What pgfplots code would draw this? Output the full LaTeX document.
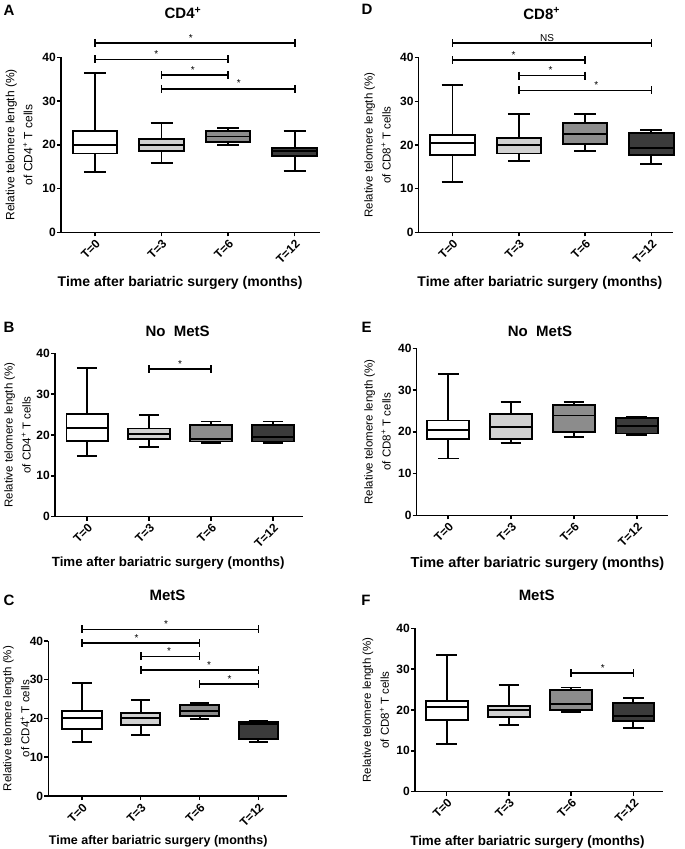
\documentclass[border=0pt]{standalone}
\usepackage{fontspec}
\setmainfont{Liberation Sans}
\usepackage{pgfplots}
\pgfplotsset{compat=1.18}

\definecolor{boxlight}{gray}{0.82}
\definecolor{boxmid}{gray}{0.55}
\definecolor{boxdark}{gray}{0.23}

\newcommand{\fs}[1]{\fontsize{#1}{#1}\selectfont}

\tikzset{sigstar/.style={anchor=base, yshift=1.8pt, font=\fs{10}}}

\pgfplotsset{
  panel/.style={
    scale only axis, clip=false,
    axis lines*=left,
    axis line style={line width=1.5pt},
    ymin=0, ymax=40, ytick={0,10,20,30,40},
    xtick={0,1,2,3}, xticklabels={{T=0},{T=3},{T=6},{T=12}},
    tick align=outside, major tick length=4pt,
    tick style={line width=1.5pt, black},
    /pgf/number format/assume math mode=true,
    yticklabel style={font=\bfseries\fs{12}, inner sep=1pt},
    xticklabel style={font=\bfseries\fs{12}, rotate=45, anchor=north east, inner sep=1.5pt},
    ylabel style={font=\fontsize{11.5}{18}\selectfont, align=center, anchor=center},
    xlabel style={font=\bfseries\fs{13.5}, anchor=center},
    title style={font=\bfseries\fs{15}, anchor=center},
  },
  bx/.style={line width=1.9pt, draw=black, line join=miter, mark=none},
  sig/.style={line width=1.7pt, black, mark=|, mark size=4pt, mark options={line width=1.7pt}},
}

% box: position, lower whisker, lower quartile, median, upper quartile, upper whisker, fill
\newcommand{\bp}[7]{%
  \pgfmathsetmacro{\boxL}{#1-0.335}\pgfmathsetmacro{\boxR}{#1+0.335}%
  \pgfmathsetmacro{\capL}{#1-0.165}\pgfmathsetmacro{\capR}{#1+0.165}%
  \addplot[bx] coordinates {(#1,#5)(#1,#6)};
  \addplot[bx] coordinates {(\capL,#6)(\capR,#6)};
  \addplot[bx] coordinates {(#1,#3)(#1,#2)};
  \addplot[bx] coordinates {(\capL,#2)(\capR,#2)};
  \addplot[bx, fill=#7, line cap=rect] coordinates {(\boxL,#3)(\boxR,#3)(\boxR,#5)(\boxL,#5)(\boxL,#3)};
  \addplot[bx] coordinates {(\boxL,#4)(\boxR,#4)};
}

\begin{document}
\begin{tikzpicture}
\useasboundingbox (0pt,0pt) rectangle (685pt,849pt);

% ---------------- A: CD4+ ----------------
\begin{axis}[panel, at={(61pt,616.7pt)}, anchor=south west,
  width=259pt, height=175pt, xmin=-0.51, xmax=3.38,
  title={CD4\textsuperscript{+}}, title style={at={(axis description cs:0.471,1)}, yshift=38.3pt},
  ylabel={Relative telomere length (\%)\\of CD4\textsuperscript{+} T cells},
  ylabel style={at={(axis description cs:-0.162,0.5)}, font=\fontsize{12}{18}\selectfont},
  xlabel={Time after bariatric surgery (months)},
  xlabel style={at={(axis description cs:0.46,0)}, yshift=-50.7pt, font=\bfseries\fs{14}}]
\bp{0}{13.85}{18.0}{19.95}{23.2}{36.5}{white}
\bp{1}{15.8}{18.6}{19.95}{21.4}{25.05}{boxlight}
\bp{2}{19.95}{20.6}{21.9}{23.1}{23.8}{boxmid}
\bp{3}{14.0}{17.5}{18.65}{19.35}{23.2}{boxdark}
\addplot[sig] coordinates {(0,43.3)(3,43.3)} node[sigstar, pos=0.48] {*};
\addplot[sig] coordinates {(0,39.5)(2,39.5)} node[sigstar, pos=0.46] {*};
\addplot[sig] coordinates {(1,35.9)(2,35.9)} node[sigstar, pos=0.47] {*};
\addplot[sig] coordinates {(1,32.8)(3,32.8)} node[sigstar, pos=0.58] {*};
\end{axis}

% ---------------- D: CD8+ ----------------
\begin{axis}[panel, at={(418.7pt,616.7pt)}, anchor=south west,
  width=254.6pt, height=174.6pt, xmin=-0.51, xmax=3.33,
  title={CD8\textsuperscript{+}}, title style={at={(axis description cs:0.483,1)}, yshift=38.3pt},
  ylabel={Relative telomere length (\%)\\of CD8\textsuperscript{+} T cells},
  ylabel style={at={(axis description cs:-0.162,0.5)}},
  xlabel={Time after bariatric surgery (months)},
  xlabel style={at={(axis description cs:0.476,0)}, yshift=-51pt, font=\bfseries\fs{14}}]
\bp{0}{11.6}{17.8}{20.5}{22.2}{33.7}{white}
\bp{1}{16.3}{18.05}{19.95}{21.5}{27.0}{boxlight}
\bp{2}{18.6}{20.3}{22.6}{25.1}{27.0}{boxmid}
\bp{3}{15.7}{17.7}{19.35}{22.85}{23.5}{boxdark}
\addplot[sig] coordinates {(0,43.3)(3,43.3)} node[sigstar, pos=0.475, yshift=-0.5pt] {NS};
\addplot[sig] coordinates {(0,39.4)(2,39.4)} node[sigstar, pos=0.46] {*};
\addplot[sig] coordinates {(1,35.9)(2,35.9)} node[sigstar, pos=0.48] {*};
\addplot[sig] coordinates {(1,32.5)(3,32.5)} node[sigstar, pos=0.585] {*};
\end{axis}

% ---------------- B: No MetS, CD4+ ----------------
\begin{axis}[panel, at={(55pt,332.3pt)}, anchor=south west,
  width=247.7pt, height=163.4pt, xmin=-0.52, xmax=3.48,
  title={No\ \ MetS}, title style={at={(axis description cs:0.495,1)}, yshift=16pt},
  ylabel={Relative telomere length (\%)\\of CD4\textsuperscript{+} T cells},
  ylabel style={at={(axis description cs:-0.151,0.5)}},
  xlabel={Time after bariatric surgery (months)},
  xlabel style={at={(axis description cs:0.457,0)}, yshift=-46.6pt, font=\bfseries\fs{13.3}}]
\bp{0}{14.8}{18.5}{21.7}{25.15}{36.4}{white}
\bp{1}{17.15}{19.0}{20.25}{21.6}{24.9}{boxlight}
\bp{2}{18.1}{18.4}{19.1}{22.45}{23.3}{boxmid}
\bp{3}{18.1}{18.4}{19.45}{22.45}{23.3}{boxdark}
\addplot[sig] coordinates {(1,36.1)(2,36.1)} node[sigstar, pos=0.5] {*};
\end{axis}

% ---------------- E: No MetS, CD8+ ----------------
\begin{axis}[panel, at={(416.7pt,333.7pt)}, anchor=south west,
  width=251.6pt, height=167pt, xmin=-0.5, xmax=3.5,
  title={No\ \ MetS}, title style={at={(axis description cs:0.49,1)}, yshift=11pt},
  ylabel={Relative telomere length (\%)\\of CD8\textsuperscript{+} T cells},
  ylabel style={at={(axis description cs:-0.156,0.5)}},
  xlabel={Time after bariatric surgery (months)},
  xlabel style={at={(axis description cs:0.48,0)}, yshift=-48pt, font=\bfseries\fs{14.5}}]
\bp{0}{13.6}{18.2}{20.35}{22.7}{33.8}{white}
\bp{1}{17.4}{18.2}{21.2}{24.2}{27.05}{boxlight}
\bp{2}{18.75}{19.95}{23.9}{26.35}{27.1}{boxmid}
\bp{3}{19.3}{19.6}{21.4}{23.4}{23.5}{boxdark}
\end{axis}

% ---------------- C: MetS, CD4+ ----------------
\begin{axis}[panel, at={(48.3pt,53pt)}, anchor=south west,
  width=238.4pt, height=155pt, xmin=-0.57, xmax=3.48,
  title={MetS}, title style={at={(axis description cs:0.5,1)}, yshift=39.3pt},
  ylabel={Relative telomere length (\%)\\of CD4\textsuperscript{+} T cells},
  ylabel style={at={(axis description cs:-0.134,0.5)}},
  xlabel={Time after bariatric surgery (months)},
  xlabel style={at={(axis description cs:0.461,0)}, yshift=-45.7pt, font=\bfseries\fs{12.5}}]
\bp{0}{13.9}{17.3}{20.05}{22.0}{29.2}{white}
\bp{1}{15.7}{18.4}{20.05}{21.5}{24.8}{boxlight}
\bp{2}{19.95}{20.6}{22.0}{23.4}{23.9}{boxmid}
\bp{3}{13.9}{14.8}{18.5}{19.1}{19.35}{boxdark}
\addplot[sig] coordinates {(0,43.0)(3,43.0)} node[sigstar, pos=0.477] {*};
\addplot[sig] coordinates {(0,39.4)(2,39.4)} node[sigstar, pos=0.465] {*};
\addplot[sig] coordinates {(1,36.0)(2,36.0)} node[sigstar, pos=0.48] {*};
\addplot[sig] coordinates {(1,32.5)(3,32.5)} node[sigstar, pos=0.58] {*};
\addplot[sig] coordinates {(2,28.9)(3,28.9)} node[sigstar, pos=0.51] {*};
\end{axis}

% ---------------- F: MetS, CD8+ ----------------
\begin{axis}[panel, at={(415pt,57.3pt)}, anchor=south west,
  width=248.3pt, height=163.4pt, xmin=-0.51, xmax=3.48,
  title={MetS}, title style={at={(axis description cs:0.49,1)}, yshift=26.6pt},
  ylabel={Relative telomere length (\%)\\of CD8\textsuperscript{+} T cells},
  ylabel style={at={(axis description cs:-0.158,0.5)}},
  xlabel={Time after bariatric surgery (months)},
  xlabel style={at={(axis description cs:0.453,0)}, yshift=-50pt, font=\bfseries\fs{13.4}}]
\bp{0}{11.6}{17.55}{20.75}{22.3}{33.5}{white}
\bp{1}{16.3}{18.2}{20.0}{21.05}{26.2}{boxlight}
\bp{2}{19.45}{20.0}{21.5}{24.8}{25.5}{boxmid}
\bp{3}{15.6}{17.25}{18.45}{21.7}{23.0}{boxdark}
\addplot[sig] coordinates {(2,29.0)(3,29.0)} node[sigstar, pos=0.51] {*};
\end{axis}

% panel letters
\node[font=\bfseries\fs{15}] at (9pt,839pt) {A};
\node[font=\bfseries\fs{15}] at (367pt,839.5pt) {D};
\node[font=\bfseries\fs{15}] at (9pt,521.5pt) {B};
\node[font=\bfseries\fs{15}] at (366.5pt,521.5pt) {E};
\node[font=\bfseries\fs{15}] at (9pt,248.2pt) {C};
\node[font=\bfseries\fs{15}] at (366pt,248.2pt) {F};
\end{tikzpicture}
\end{document}
